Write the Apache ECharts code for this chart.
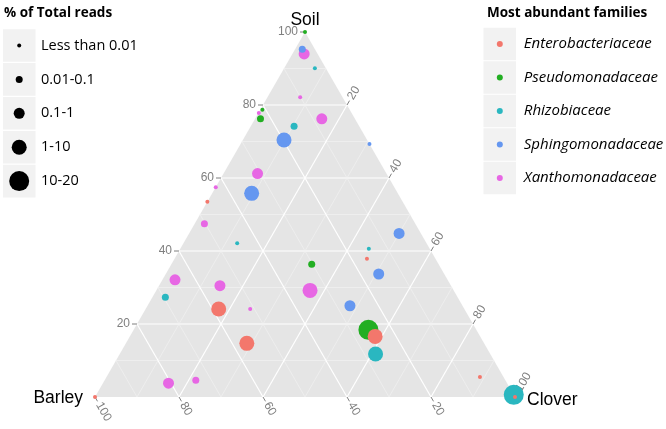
<!DOCTYPE html>
<html>
<head>
<meta charset="utf-8">
<script src="https://cdn.jsdelivr.net/npm/echarts@6/dist/echarts.min.js"></script>
<style>
html,body{margin:0;padding:0;background:#fff;}
#chart{width:666px;height:429px;}
</style>
</head>
<body>
<div id="chart"></div>
<script>
// ---------- data: [Barley, Soil, Clover, abundance class (1..5)] ----------
const families = ['Enterobacteriaceae','Pseudomonadaceae','Rhizobiaceae','Sphingomonadaceae','Xanthomonadaceae'];
const familyColors = ['#F3776C','#22AE22','#2AB7C0','#6597F0','#E767E4'];

const enterobacteriaceae = [
  [58.5,24.1,17.4,4],[56.5,14.7,28.8,4],[25.0,16.6,58.4,4],[16.3,37.9,45.8,1],
  [46.5,53.5,0,1],[100,0,0,1],[5.6,5.5,88.9,1],[0,0,100,1]
];
const pseudomonadaceae = [
  [0,100,0,1],[20.8,78.7,0.5,1],[22.5,76.2,1.3,2],[30.2,36.4,33.4,2],[25.7,18.4,55.9,5]
];
const rhizobiaceae = [
  [2.6,90.1,7.3,1],[15.5,74.2,10.3,2],[45.1,42.1,12.8,1],[14.5,40.6,44.9,1],
  [69.6,27.3,3.1,2],[27.3,11.8,60.9,4],[0,0.6,99.4,5]
];
const sphingomonadaceae = [
  [3.0,95.3,1.7,2],[19.8,70.4,9.8,4],[0,69.3,30.7,1],[34.8,55.8,9.4,4],
  [5.2,44.8,50.0,3],[15.6,33.7,50.7,3],[26.8,25.0,48.2,3]
];
const xanthomonadaceae = [
  [3.2,94.0,2.8,3],[10.1,82.1,7.8,1],[22.1,77.8,0.1,1],[7.9,76.2,15.9,3],
  [30.7,61.2,8.1,3],[42.5,57.5,0,1],[50.2,47.5,2.3,2],[64.9,32.1,3.0,3],
  [55.0,30.5,14.5,3],[51.0,24.1,24.9,1],[34.2,29.2,36.6,4],[80.6,3.8,15.6,3],
  [73.7,4.6,21.7,2]
];
const familyData = [enterobacteriaceae, pseudomonadaceae, rhizobiaceae, sphingomonadaceae, xanthomonadaceae];

const sizeLabels = ['Less than 0.01','0.01-0.1','0.1-1','1-10','10-20'];
const sizeTitle = '% of Total reads';
const familyTitle = 'Most abundant families';
const axisTitles = ['Soil','Barley','Clover'];
const tickLabels = [20,40,60,80,100];
const gridValues = [10,20,30,40,50,60,70,80,90];

// ---------- styles ----------
const symbolSizes = [4,7,11,15,20];
const SQ = Math.sqrt(3)/2;
function tern(b,s,c){ const t=b+s+c; s=s/t*100; c=c/t*100; return [c + s/2, s*SQ]; }
// axis 0 = Soil, 1 = Barley, 2 = Clover
function lineEnds(axis, v){
  if(axis===0) return [tern(100-v,v,0), tern(0,v,100-v)];
  if(axis===1) return [tern(v,100-v,0), tern(v,0,100-v)];
  return [tern(100-v,0,v), tern(0,100-v,v)];
}
function tickBase(axis, v){
  if(axis===0) return tern(100-v,v,0);
  if(axis===1) return tern(v,0,100-v);
  return tern(0,100-v,v);
}
const tickDir = [[-1,0],[0.5,SQ],[0.5,-SQ]];

const chart = echarts.init(document.getElementById('chart'), null, {renderer:'canvas'});

const gridData = [];
for(let a=0;a<3;a++) for(const v of gridValues) gridData.push([a,v]);
const tickData = [];
for(let a=0;a<3;a++) for(const v of tickLabels) tickData.push([a,v]);

// draw order (so overlaps match): teal, magenta, green, red, blue
const drawOrder = [2,4,1,0,3];
const scatterSeries = drawOrder.map(i => ({
  type:'scatter', name: families[i], z:5,
  data: familyData[i].map(d => { const p = tern(d[0],d[1],d[2]); return [p[0],p[1],d[3]]; }),
  symbolSize: v => symbolSizes[v[2]-1],
  itemStyle:{color: familyColors[i], opacity:1},
  emphasis:{disabled:true}
}));

const labelFont = 'Liberation Sans, Arial, sans-serif';
const legendFont = 'Open Sans, sans-serif';

const graphics = [];
graphics.push({type:'text', x:4, y:13, style:{text:sizeTitle, font:'bold 13.5px '+legendFont, fill:'#000', verticalAlign:'middle'}});
graphics.push({type:'text', x:487, y:13, style:{text:familyTitle, font:'bold 13.5px '+legendFont, fill:'#000', verticalAlign:'middle'}});
for(let i=0;i<5;i++){
  const cy = 45.5 + i*33.9;
  graphics.push({type:'rect', shape:{x:3, y:cy-16.3, width:32.5, height:32.6}, style:{fill:'#F2F2F2'}});
  graphics.push({type:'circle', shape:{cx:19.2, cy:cy, r:symbolSizes[i]/2}, style:{fill:'#000'}});
  graphics.push({type:'text', x:41, y:cy, style:{text:sizeLabels[i], font:'14.5px '+legendFont, fill:'#000', verticalAlign:'middle'}});
  const fy = 44 + i*33.5;
  graphics.push({type:'rect', shape:{x:483.5, y:fy-16.2, width:32.5, height:32.4}, style:{fill:'#F2F2F2'}});
}

const option = {
  animation:false,
  backgroundColor:'#fff',
  grid:{left:95, right:151, top:32, bottom:32, containLabel:false},
  xAxis:{type:'value', min:0, max:100, show:false},
  yAxis:{type:'value', min:0, max:100*SQ, show:false},
  legend:{
    data: families, orient:'vertical', left:496.8, top:34, padding:0,
    icon:'circle', itemWidth:6, itemHeight:6, itemGap:13.5,
    selectedMode:false,
    textStyle:{fontFamily:legendFont, fontSize:15, fontStyle:'italic', color:'#000', lineHeight:20, padding:[0,0,0,16]}
  },
  graphic: graphics,
  series: [
    {
      type:'custom', name:'panel', z:1, silent:true, data:[[0,0]],
      renderItem:(params, api) => ({
        type:'polygon',
        shape:{points:[api.coord(tern(100,0,0)), api.coord(tern(0,0,100)), api.coord(tern(0,100,0))]},
        style:{fill:'#E5E5E5'}
      })
    },
    {
      type:'custom', name:'gridlines', z:2, silent:true, data:gridData,
      renderItem:(params, api) => {
        const a = api.value(0), v = api.value(1);
        const e = lineEnds(a, v);
        const p1 = api.coord(e[0]), p2 = api.coord(e[1]);
        const major = v % 20 === 0;
        return {type:'line', shape:{x1:p1[0],y1:p1[1],x2:p2[0],y2:p2[1]},
          style:{stroke: major ? '#FFFFFF' : '#F4F4F4', lineWidth: major ? 1.2 : 0.6}};
      }
    },
    {
      type:'custom', name:'ticks', z:3, silent:true, data:tickData,
      renderItem:(params, api) => {
        const a = api.value(0), v = api.value(1);
        const p = api.coord(tickBase(a, v));
        const d = tickDir[a];
        const L = 5, g = 2;
        const t = [p[0]+d[0]*L, p[1]+d[1]*L];
        const lp = [p[0]+d[0]*(L+g), p[1]+d[1]*(L+g)];
        let text;
        if(a===0){
          text = {type:'text', x:lp[0], y:lp[1], style:{text:String(v), fill:'#7F7F7F', font:'12px '+labelFont, align:'right', verticalAlign:'middle'}};
        } else if(a===1){
          text = {type:'text', x:lp[0], y:lp[1], rotation:-Math.PI/3, style:{text:String(v), fill:'#7F7F7F', font:'12px '+labelFont, align:'left', verticalAlign:'middle'}};
        } else {
          text = {type:'text', x:lp[0], y:lp[1], rotation:Math.PI/3, style:{text:String(v), fill:'#7F7F7F', font:'12px '+labelFont, align:'left', verticalAlign:'middle'}};
        }
        return {type:'group', children:[
          {type:'line', shape:{x1:p[0],y1:p[1],x2:t[0],y2:t[1]}, style:{stroke:'#7F7F7F', lineWidth:1}},
          text
        ]};
      }
    },
    {
      type:'custom', name:'axisTitles', z:3, silent:true, data:[[0,0],[1,0],[2,0]],
      renderItem:(params, api) => {
        const a = api.value(0);
        const verts = [tern(0,100,0), tern(100,0,0), tern(0,0,100)];
        const p = api.coord(verts[a]);
        const font = '17.5px '+labelFont;
        if(a===0) return {type:'text', x:p[0], y:p[1]-12, style:{text:axisTitles[0], font, fill:'#000', align:'center', verticalAlign:'middle'}};
        if(a===1) return {type:'text', x:p[0]-12, y:p[1]+1, style:{text:axisTitles[1], font, fill:'#000', align:'right', verticalAlign:'middle'}};
        return {type:'text', x:p[0]+12, y:p[1]+3, style:{text:axisTitles[2], font, fill:'#000', align:'left', verticalAlign:'middle'}};
      }
    }
  ].concat(scatterSeries)
};
chart.setOption(option);
</script>
</body>
</html>
